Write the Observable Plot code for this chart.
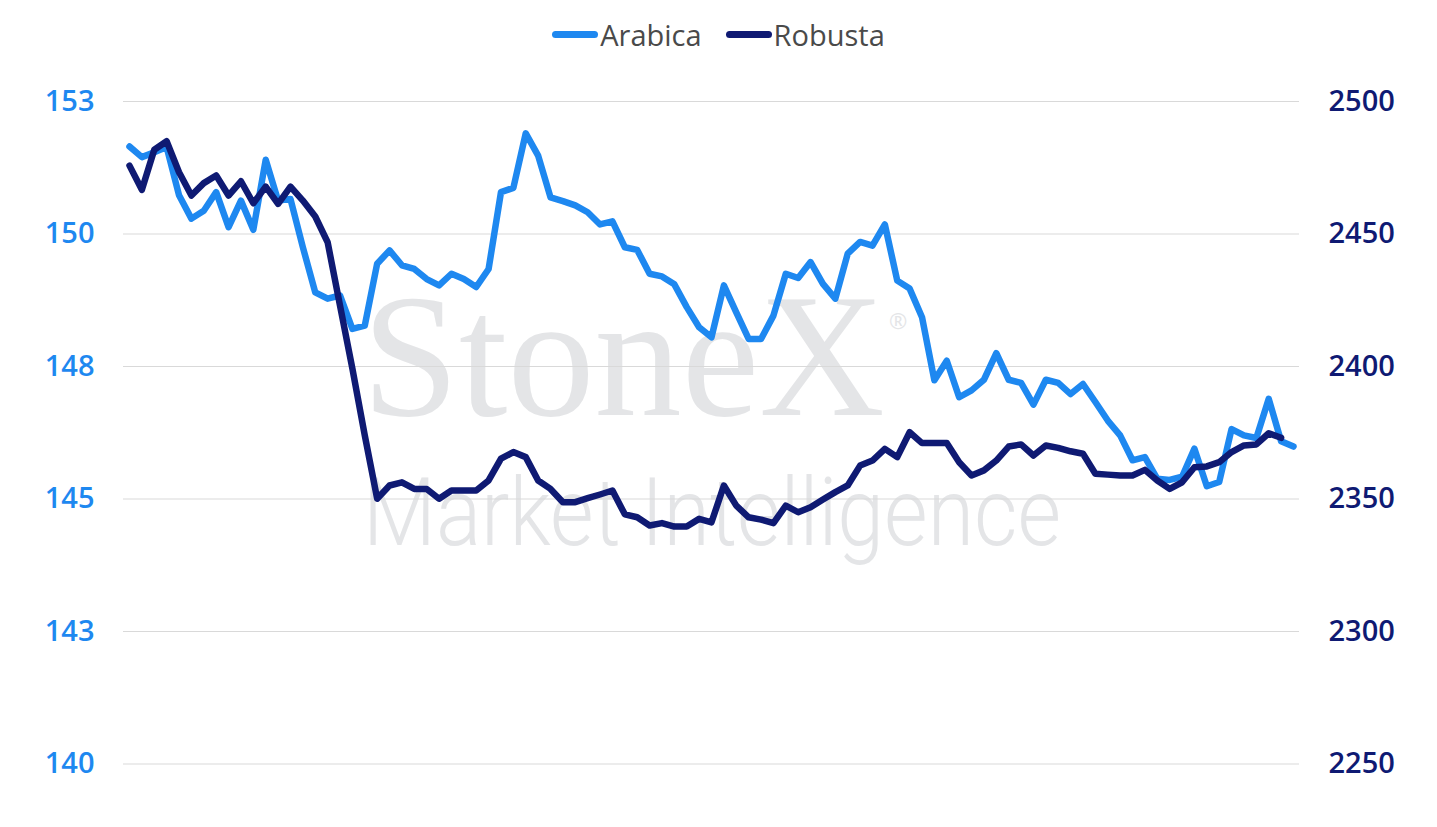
<!DOCTYPE html>
<html>
<head>
<meta charset="utf-8">
<script src="https://cdn.jsdelivr.net/npm/d3@7"></script>
<script src="https://cdn.jsdelivr.net/npm/@observablehq/plot@0.6"></script>
<style>
  html, body { margin: 0; padding: 0; background: #ffffff; }
  #legend {
    height: 68px; padding-bottom: 4px; display: flex; justify-content: center; align-items: center;
    font-family: "Open Sans", sans-serif; font-size: 29px; color: #4a4a4a;
  }
  .item { display: flex; align-items: center; margin: 0 12px; }
  .sw { width: 46px; height: 7px; border-radius: 3.5px; margin-right: 2px; }
  #chart svg { display: block; }
</style>
</head>
<body>
<div id="legend"></div>
<div id="chart"></div>
<script>
// Series names and colours
const seriesNames = ["Arabica", "Robusta"];
const seriesColors = ["#1e88f0", "#0f1a73"];

// Arabica (left axis), one value per period
const arabica = [
  151.65,151.45,151.54,151.64,150.73,150.29,150.44,150.79,150.13,150.63,
  150.08,151.40,150.63,150.66,149.75,148.90,148.78,148.84,148.21,148.27,
  149.44,149.69,149.41,149.34,149.15,149.03,149.25,149.15,149.00,149.34,
  150.79,150.87,151.90,151.48,150.69,150.62,150.54,150.41,150.18,150.24,
  149.75,149.70,149.25,149.20,149.05,148.62,148.24,148.05,149.03,148.52,
  148.02,148.02,148.46,149.25,149.17,149.47,149.06,148.78,149.63,149.85,
  149.78,150.18,149.12,148.97,148.43,147.24,147.61,146.92,147.05,147.25,
  147.75,147.25,147.19,146.78,147.25,147.19,146.98,147.17,146.83,146.48,
  146.20,145.73,145.79,145.38,145.36,145.42,145.95,145.24,145.32,146.32,
  146.20,146.15,146.89,146.09,145.99
];

// Robusta (right axis)
const robusta = [
  2475.8,2466.7,2481.8,2485.0,2473.3,2464.5,2469.2,2472.1,2464.5,2469.9,
  2461.6,2467.9,2461.4,2467.9,2462.6,2456.6,2446.9,2423.0,2399.2,2374.0,
  2350.1,2355.1,2356.3,2353.8,2353.8,2350.1,2353.2,2353.2,2353.2,2357.0,
  2365.2,2367.7,2365.8,2357.0,2353.8,2348.8,2348.8,2350.3,2351.7,2353.2,
  2344.2,2343.1,2340.0,2340.9,2339.6,2339.6,2342.5,2341.2,2355.1,2347.5,
  2343.1,2342.2,2340.9,2347.5,2345.0,2346.9,2349.8,2352.6,2355.1,2362.6,
  2364.5,2368.9,2365.8,2375.2,2371.1,2371.1,2371.1,2363.9,2358.9,2360.8,
  2364.5,2369.8,2370.6,2366.4,2370.2,2369.3,2368.0,2367.1,2359.5,2359.2,
  2358.9,2358.9,2361.0,2357.0,2353.8,2356.3,2362.0,2362.3,2363.9,2367.7,
  2370.2,2370.6,2374.8,2373.1
];

// Axis ticks
const leftTicks = [140, 142.5, 145, 147.5, 150, 152.5];
const rightTicks = [2250, 2300, 2350, 2400, 2450, 2500];

// map right-axis values onto the left-axis scale
const lMin = leftTicks[0], lMax = leftTicks[leftTicks.length - 1];
const rMin = rightTicks[0], rMax = rightTicks[rightTicks.length - 1];
const toLeft = r => lMin + (r - rMin) * (lMax - lMin) / (rMax - rMin);
const toRight = l => rMin + (l - lMin) * (rMax - rMin) / (lMax - lMin);

const arabicaRows = arabica.map((v, i) => ({i, v}));
const robustaRows = robusta.map((v, i) => ({i, v: toLeft(v)}));

// legend
const legend = document.getElementById("legend");
seriesNames.forEach((n, k) => {
  const it = document.createElement("div");
  it.className = "item";
  it.innerHTML = `<span class="sw" style="background:${seriesColors[k]}"></span><span>${n}</span>`;
  legend.appendChild(it);
});

// watermark (decorative background text)
function watermark(index, scales, values, dims) {
  const g = d3.create("svg:g").attr("fill", "#e4e5e7").attr("text-anchor", "start");
  const x0 = dims.marginLeft + 239;
  g.append("text")
    .attr("x", x0).attr("y", dims.marginTop + 314)
    .attr("font-family", "Liberation Serif, DejaVu Serif, serif")
    .attr("font-size", 175)
    .attr("textLength", 523).attr("lengthAdjust", "spacingAndGlyphs")
    .text("StoneX");
  g.append("text")
    .attr("x", x0 + 527).attr("y", dims.marginTop + 228)
    .attr("font-family", "Open Sans, sans-serif")
    .attr("font-size", 22)
    .text("®");
  g.append("text")
    .attr("x", x0 + 1).attr("y", dims.marginTop + 444)
    .attr("font-family", "Roboto, Open Sans, sans-serif")
    .attr("font-weight", 300)
    .attr("font-size", 95)
    .attr("textLength", 698).attr("lengthAdjust", "spacingAndGlyphs")
    .text("Market Intelligence");
  return g.node();
}

const chart = Plot.plot({
  width: 1437,
  height: 755,
  marginLeft: 123,
  marginRight: 138,
  marginTop: 29,
  marginBottom: 63.5,
  x: {domain: [0, arabica.length - 1], inset: 6, axis: null},
  y: {domain: [lMin, lMax], label: null},
  style: {fontFamily: "Open Sans, sans-serif", background: "transparent"},
  marks: [
    watermark,
    Plot.ruleY(leftTicks, {stroke: "#d9d9d9", strokeWidth: 1}),
    Plot.axisY(leftTicks, {
      anchor: "left", tickSize: 0, tickPadding: 29, label: null,
      tickFormat: d => String(Math.round(d)),
      fontSize: 29, fontWeight: 600, color: seriesColors[0]
    }),
    Plot.axisY(leftTicks, {
      anchor: "right", tickSize: 0, tickPadding: 29, label: null,
      tickFormat: d => String(Math.round(toRight(d))),
      fontSize: 29, fontWeight: 600, color: seriesColors[1]
    }),
    Plot.lineY(arabicaRows, {
      x: "i", y: "v", stroke: seriesColors[0], strokeWidth: 6.5,
      strokeLinejoin: "round", strokeLinecap: "round"
    }),
    Plot.lineY(robustaRows, {
      x: "i", y: "v", stroke: seriesColors[1], strokeWidth: 6.5,
      strokeLinejoin: "round", strokeLinecap: "round"
    })
  ]
});
document.getElementById("chart").appendChild(chart);
</script>
</body>
</html>
